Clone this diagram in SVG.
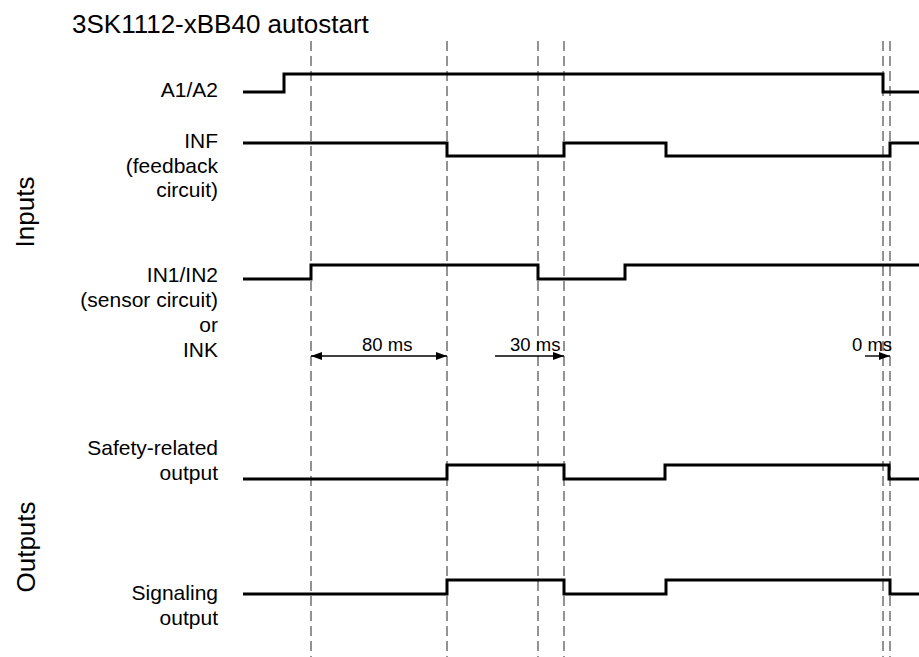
<svg xmlns="http://www.w3.org/2000/svg" width="919" height="657" viewBox="0 0 919 657">
<style>
text{font-family:"Liberation Sans",Arial,sans-serif;fill:#000}
.lbl{font-size:21px;text-anchor:end}
.title{font-size:26px}
.side{font-size:26px;text-anchor:middle}
.ms{font-size:18.5px}
.sig{fill:none;stroke:#000;stroke-width:3;stroke-linejoin:miter;stroke-linecap:butt}
.dash{stroke:#666;stroke-width:1.4;stroke-dasharray:10 5}
.arr{stroke:#000;stroke-width:1.4;fill:none}
</style>
<defs>
<marker id="ah" viewBox="0 0 11 8" refX="11" refY="4" markerWidth="11" markerHeight="8" markerUnits="userSpaceOnUse" orient="auto-start-reverse">
<path d="M0,0 L11,4 L0,8 z" fill="#000"/>
</marker>
</defs>
<rect width="919" height="657" fill="#fff"/>
<text class="title" x="72" y="33">3SK1112-xBB40 autostart</text>
<text class="side" transform="translate(34,212) rotate(-90)">Inputs</text>
<text class="side" transform="translate(35,547) rotate(-90)">Outputs</text>
<g id="grid">
<line class="dash" x1="311" y1="41" x2="311" y2="657"/>
<line class="dash" x1="447" y1="41" x2="447" y2="657"/>
<line class="dash" x1="538" y1="41" x2="538" y2="657"/>
<line class="dash" x1="564" y1="41" x2="564" y2="657"/>
<line class="dash" x1="883" y1="41" x2="883" y2="657"/>
<line class="dash" x1="890" y1="41" x2="890" y2="657"/>
</g>
<g id="a1a2">
<text class="lbl" x="218" y="97">A1/A2</text>
<polyline class="sig" points="243,92 284,92 284,74 883,74 883,92 919,92"/>
</g>
<g id="inf">
<text class="lbl" x="218" y="148">INF</text>
<text class="lbl" x="218" y="172.5">(feedback</text>
<text class="lbl" x="218" y="197">circuit)</text>
<polyline class="sig" points="243,143 447,143 447,156 564,156 564,143 666,143 666,156 890,156 890,143 919,143"/>
</g>
<g id="in12">
<text class="lbl" x="218" y="282">IN1/IN2</text>
<text class="lbl" x="218" y="307">(sensor circuit)</text>
<text class="lbl" x="218" y="332">or</text>
<text class="lbl" x="218" y="357">INK</text>
<polyline class="sig" points="243,279 311,279 311,265 538,265 538,279 625,279 625,265 919,265"/>
</g>
<g id="safety">
<text class="lbl" x="218" y="455">Safety-related</text>
<text class="lbl" x="218" y="480">output</text>
<polyline class="sig" points="243,479 447,479 447,465 564,465 564,479 665,479 665,465 889,465 889,479 919,479"/>
</g>
<g id="signal">
<text class="lbl" x="218" y="600">Signaling</text>
<text class="lbl" x="218" y="625">output</text>
<polyline class="sig" points="243,594 447,594 447,580 564,580 564,594 666,594 666,580 890,580 890,594 919,594"/>
</g>
<g id="connectors">
<line class="arr" x1="311" y1="356" x2="447" y2="356" marker-start="url(#ah)" marker-end="url(#ah)"/>
<line class="arr" x1="495" y1="356" x2="564" y2="356" marker-end="url(#ah)"/>
<line class="arr" x1="865" y1="356" x2="890" y2="356" marker-end="url(#ah)"/>
</g>
<text class="ms" x="362" y="351">80 ms</text>
<text class="ms" x="510" y="351">30 ms</text>
<text class="ms" x="852" y="351">0 ms</text>
</svg>
